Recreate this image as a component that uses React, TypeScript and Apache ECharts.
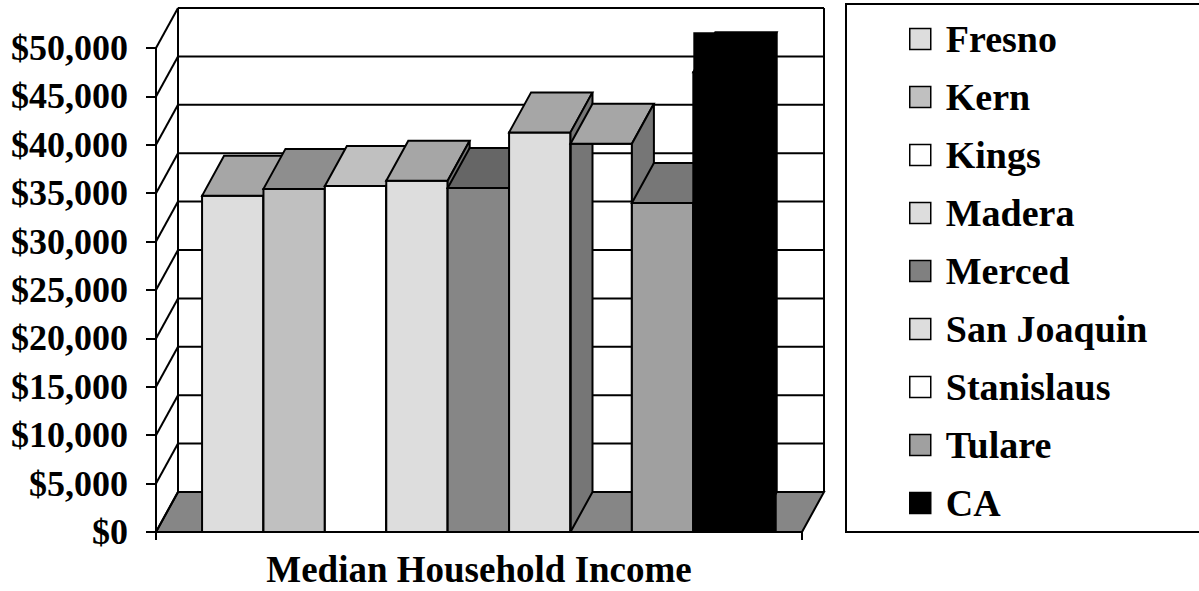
import React, { useEffect, useRef } from "react";
import * as echarts from "echarts";

const COUNTIES = ["Fresno", "Kern", "Kings", "Madera", "Merced", "San Joaquin", "Stanislaus", "Tulare", "CA"];
const INCOME = [34725, 35446, 35749, 36286, 35532, 41282, 40101, 33983, 47493];
const CATEGORY = ["Median Household Income"];
const Y_TICKS = [0, 5000, 10000, 15000, 20000, 25000, 30000, 35000, 40000, 45000, 50000];

const LEGEND_COLORS = ["#DDDDDD", "#C0C0C0", "#FFFFFF", "#DDDDDD", "#808080", "#DDDDDD", "#FFFFFF", "#A0A0A0", "#000000"];
const FRONT_COLORS = ["#DDDDDD", "#C0C0C0", "#FFFFFF", "#DDDDDD", "#868686", "#DDDDDD", "rgba(0,0,0,0)", "#A0A0A0", "#000000"];
const TOP_COLORS = ["#A6A6A6", "#8E8E8E", "#C0C0C0", "#A6A6A6", "#666666", "#A6A6A6", "#A6A6A6", "#777777", "#000000"];
const SIDE_COLORS = ["#7A7A7A", "#6A6A6A", "#909090", "#767676", "#4C4C4C", "#767676", "#767676", "#585858", "#000000"];
const SOLID_BLOCK = [false, false, false, false, false, false, false, false, true];

const DX = 22;
const DY = -40;
const FONT = "Liberation Serif";
const LW = 2;

export default function App() {
  const ref = useRef<HTMLDivElement>(null);

  useEffect(() => {
    if (!ref.current) return;
    const chart = echarts.init(ref.current, undefined, { renderer: "svg" });

    const wallSeries: any = {
      type: "custom",
      name: "walls",
      xAxisIndex: 1,
      yAxisIndex: 0,
      z: 1,
      silent: true,
      clip: false,
      data: Y_TICKS.map((v) => [0, v]),
      renderItem: (params: any, api: any) => {
        const v = api.value(1);
        const p = api.coord([0, v]);
        const y = p[1];
        const cs = params.coordSys;
        const x0 = cs.x;
        const x1 = cs.x + cs.width;
        const line = (a: number[], b: number[]) => ({
          type: "line",
          shape: { x1: a[0], y1: a[1], x2: b[0], y2: b[1] },
          style: { stroke: "#000", lineWidth: LW },
        });
        const children: any[] = [];
        if (params.dataIndex === 0) {
          children.push({
            type: "polygon",
            shape: { points: [[x0, y], [x1, y], [x1 + DX, y + DY], [x0 + DX, y + DY]] },
            style: { fill: "#868686", stroke: "#000", lineWidth: LW },
          });
          children.push(line([x0 + DX, cs.y + DY], [x0 + DX, y + DY]));
          children.push(line([x1 + DX, cs.y + DY], [x1 + DX, y + DY]));
        }
        children.push(line([x0 + DX, y + DY], [x1 + DX, y + DY]));
        children.push(line([x0, y], [x0 + DX, y + DY]));
        return { type: "group", children };
      },
    };

    const barSeries = COUNTIES.map((name, i) => ({
      type: "custom",
      name,
      xAxisIndex: 1,
      yAxisIndex: 0,
      z: 2,
      silent: true,
      clip: false,
      itemStyle: { color: LEGEND_COLORS[i], borderColor: "#000", borderWidth: 1.5 },
      data: [[i, INCOME[i]]],
      renderItem: (params: any, api: any) => {
        const idx = api.value(0);
        const val = api.value(1);
        const tl = api.coord([idx, val]);
        const br = api.coord([idx + 1, 0]);
        const a = tl[0];
        const b = br[0];
        const yf = tl[1];
        const y0 = br[1];
        const children: any[] = [];
        if (SOLID_BLOCK[i]) {
          children.push({
            type: "rect",
            shape: { x: a, y: yf + DY, width: b + DX - a, height: y0 - (yf + DY) },
            style: { fill: "#000" },
          });
        }
        children.push({
          type: "polygon",
          shape: { points: [[a, yf], [b, yf], [b, y0], [a, y0]] },
          style: { fill: FRONT_COLORS[i], stroke: "#000", lineWidth: LW },
        });
        children.push({
          type: "polygon",
          shape: { points: [[a, yf], [a + DX, yf + DY], [b + DX, yf + DY], [b, yf]] },
          style: { fill: TOP_COLORS[i], stroke: "#000", lineWidth: LW },
        });
        children.push({
          type: "polygon",
          shape: { points: [[b, yf], [b + DX, yf + DY], [b + DX, y0 + DY], [b, y0]] },
          style: { fill: SIDE_COLORS[i], stroke: "#000", lineWidth: LW },
        });
        return { type: "group", children };
      },
    }));

    const option: any = {
      animation: false,
      backgroundColor: "#fff",
      grid: { left: 156, right: 397, top: 48, bottom: 59, containLabel: false },
      legend: {
        orient: "vertical",
        left: 846,
        top: 4,
        padding: [16, 90, 10, 63],
        borderColor: "#000",
        borderWidth: 2,
        itemWidth: 21,
        itemHeight: 21,
        itemGap: 20,
        selectedMode: false,
        textStyle: {
          fontFamily: FONT,
          fontWeight: "bold",
          fontSize: 38,
          lineHeight: 38,
          color: "#000",
          padding: [0, 0, 0, 10],
        },
        data: COUNTIES.map((name, i) => ({
          name,
          icon: "rect",
          itemStyle: { color: LEGEND_COLORS[i], borderColor: "#000", borderWidth: 1.5 },
        })),
      },
      xAxis: [
        {
          type: "category",
          data: CATEGORY,
          boundaryGap: true,
          axisLine: { show: true, onZero: false, lineStyle: { color: "#000", width: LW } },
          axisTick: { show: true, length: 8, lineStyle: { color: "#000", width: LW } },
          axisLabel: {
            fontFamily: FONT,
            fontWeight: "bold",
            fontSize: 37,
            color: "#000",
            margin: 19,
          },
          splitLine: { show: false },
          z: 5,
        },
        {
          type: "value",
          min: -0.75,
          max: 9.77,
          show: false,
          axisLine: { onZero: false },
          splitLine: { show: false },
        },
      ],
      yAxis: {
        type: "value",
        min: 0,
        max: 50000,
        interval: 5000,
        axisLine: { show: true, onZero: false, lineStyle: { color: "#000", width: LW } },
        axisTick: { show: true, length: 10, lineStyle: { color: "#000", width: LW } },
        axisLabel: {
          fontFamily: FONT,
          fontWeight: "bold",
          fontSize: 36,
          color: "#000",
          margin: 28,
          formatter: (v: number) => "$" + v.toLocaleString("en-US"),
        },
        splitLine: { show: false },
        z: 5,
      },
      series: [wallSeries, ...barSeries],
    };

    chart.setOption(option);
    return () => chart.dispose();
  }, []);

  return (
    <div
      ref={ref}
      style={{ position: "fixed", left: 0, top: 0, width: 1199, height: 591, background: "#fff" }}
    />
  );
}
